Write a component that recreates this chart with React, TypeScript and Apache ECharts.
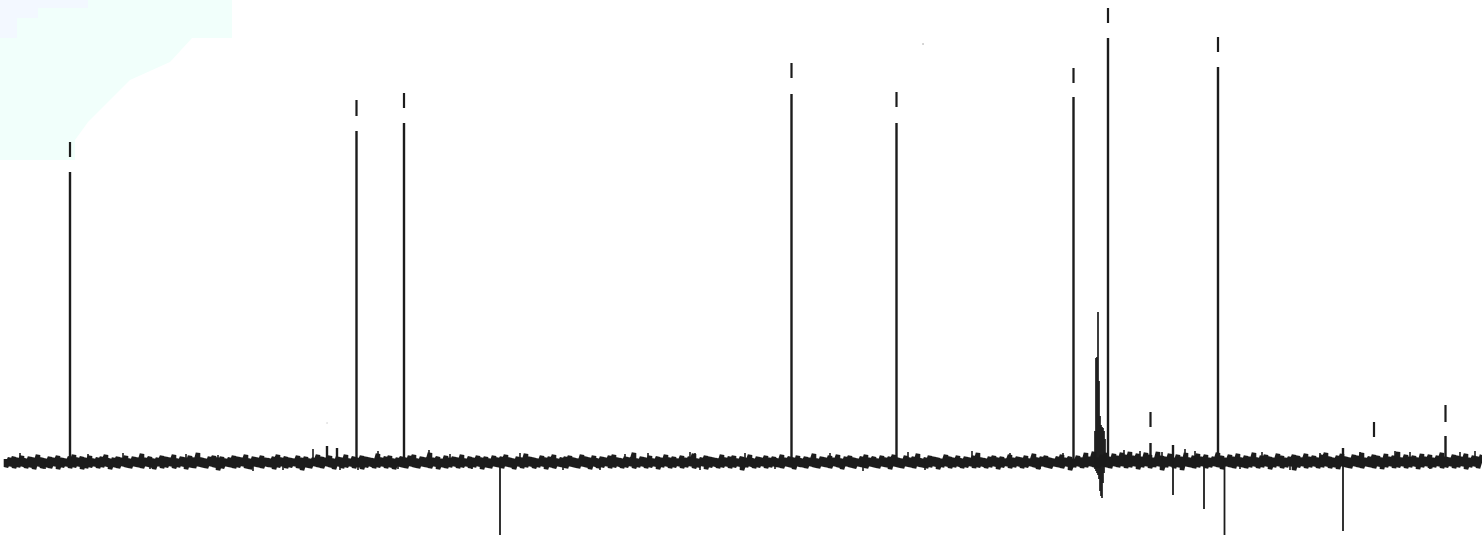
import React, { useEffect, useRef } from "react";
import * as echarts from "echarts";

// upright and inverted resonances: position along the trace, signed height
const peakX = [70, 356.5, 404, 791.5, 896.5, 1073.5, 1108, 1218, 1150.5, 1445.5, 500, 1173, 1204, 1224.5, 1343, 327, 337, 1173, 1343];
const peakHeight = [289, 330, 338, 367, 338, 364, 423, 394, 18, 25, -74, -34, -48, -74, -70, 15, 13, 16, 13];

// short tick marks floating above the peaks
const markerX = [70, 356.5, 404, 791.5, 896.5, 1073.5, 1108, 1218, 1150.5, 1374, 1445.5];
const markerLow = [304, 345, 353, 383, 354, 378, 438, 409, 34, 24, 39];
const markerHigh = [319, 361, 368, 398, 369, 393, 453, 424, 49, 39, 56];

// solvent multiplet
const solventX = [1095, 1096, 1097, 1098, 1099, 1100, 1101, 1102, 1103, 1104, 1105];
const solventHigh = [30, 103, 104, 149, 80, 45, 36, 34, 33, 30, 22];
const solventLow = [-8, -10, -12, -14, -18, -30, -35, -37, -22, -12, -6];

// baseline noise: top and bottom of the trace in pairs, one pair every 4px from x=6
const noiseStart = 6;
const noiseStep = 4;
const noise = [
  2, -6, 3, -5, 4, -7, 3, -6, 5, -5, 2, -7, 4, -6, 3, -8, 6, -5, 3, -7,
  2, -6, 4, -7, 3, -5, 5, -8, 3, -6, 2, -5, 4, -7, 6, -6, 3, -5, 4, -8,
  3, -7, 5, -6, 2, -5, 3, -7, 4, -6, 6, -5, 2, -8, 3, -6, 4, -7, 3, -5,
  5, -6, 2, -7, 4, -5, 3, -6, 7, -7, 3, -5, 4, -6, 2, -8, 3, -5, 5, -7,
  4, -6, 3, -5, 6, -7, 2, -6, 4, -5, 3, -8, 5, -6, 3, -7, 8, -5, 3, -6,
  2, -7, 4, -5, 5, -6, 3, -9, 4, -7, 2, -5, 3, -6, 5, -7, 4, -6, 3, -5,
  6, -7, 2, -8, 4, -5, 3, -6, 5, -7, 3, -5, 2, -6, 4, -8, 6, -6, 3, -5,
  4, -7, 3, -6, 2, -5, 5, -7, 3, -9, 4, -6, 2, -7, 3, -5, 6, -6, 4, -7,
  3, -5, 5, -6, 2, -8, 4, -5, 3, -7, 6, -6, 2, -5, 4, -7, 3, -6, 5, -8,
  4, -6, 3, -5, 2, -7, 7, -6, 3, -5, 4, -7, 5, -6, 2, -8, 3, -5, 4, -6,
  3, -7, 5, -5, 6, -6, 2, -7, 4, -5, 3, -6, 8, -7, 3, -5, 4, -8, 2, -6,
  5, -7, 3, -6, 4, -5, 3, -7, 6, -6, 2, -5, 4, -7, 3, -6, 5, -5, 3, -8,
  4, -6, 2, -7, 5, -5, 3, -6, 4, -7, 6, -5, 3, -6, 2, -8, 4, -5, 3, -7,
  7, -6, 4, -5, 3, -7, 2, -6, 5, -5, 3, -8, 4, -6, 6, -7, 2, -5, 3, -6,
  4, -7, 5, -5, 3, -6, 2, -7, 6, -5, 4, -6, 3, -8, 5, -5, 2, -7, 4, -6,
  3, -5, 5, -7, 6, -6, 3, -5, 2, -7, 4, -6, 3, -5, 8, -7, 2, -6, 4, -5,
  3, -7, 5, -6, 2, -5, 4, -8, 3, -6, 6, -5, 3, -7, 4, -6, 2, -5, 5, -7,
  3, -6, 4, -5, 7, -7, 2, -6, 3, -5, 5, -8, 4, -6, 3, -5, 2, -7, 6, -6,
  3, -5, 4, -7, 5, -6, 2, -5, 4, -9, 3, -6, 6, -5, 2, -7, 4, -6, 3, -5,
  5, -7, 3, -6, 4, -5, 2, -6, 6, -7, 3, -5, 4, -6, 3, -8, 5, -5, 2, -6,
  4, -7, 3, -5, 7, -6, 2, -7, 4, -5, 3, -6, 5, -7, 3, -5, 6, -6, 2, -8,
  4, -5, 5, -6, 3, -7, 2, -5, 4, -6, 6, -7, 3, -5, 4, -6, 2, -7, 5, -5,
  3, -6, 4, -8, 6, -5, 3, -6, 2, -7, 5, -5, 3, -6, 4, -7, 7, -5, 2, -6,
  3, -7, 5, -6, 4, -5, 3, -8, 2, -6, 6, -5, 4, -7, 3, -6, 5, -5, 2, -7,
  4, -6, 3, -5, 5, -7, 8, -6, 3, -5, 2, -7, 4, -6, 5, -5, 3, -8, 4, -6,
  2, -5, 6, -7, 3, -6, 4, -5, 3, -7, 5, -6, 2, -5, 7, -6, 3, -8, 4, -5,
  5, -6, 3, -7, 2, -5, 4, -6, 6, -7, 3, -5, 4, -9, 2, -6, 5, -5, 3, -7,
  8, -6, 4, -5, 9, -6, 3, -7, 6, -5, 8, -6, 4, -7, 7, -5, 5, -6, 8, -5,
  6, -7, 9, -6, 5, -5, 7, -8, 4, -6, 8, -5, 6, -7, 3, -6, 9, -5, 5, -9,
  4, -6, 7, -5, 3, -7, 6, -6, 4, -9, 8, -5, 3, -6, 5, -7, 7, -6, 4, -5,
  6, -7, 3, -6, 4, -5, 8, -6, 5, -8, 3, -5, 6, -6, 4, -7, 7, -5, 3, -6,
  5, -7, 4, -6, 8, -5, 3, -7, 5, -6, 6, -5, 4, -8, 3, -6, 7, -5, 5, -7,
  3, -6, 4, -5, 6, -9, 5, -6, 3, -5, 7, -7, 4, -6, 5, -5, 3, -7, 6, -6,
  8, -5, 4, -7, 3, -6, 5, -8, 7, -5, 4, -6, 3, -7, 6, -5, 5, -6, 8, -7,
  3, -5, 4, -6, 6, -7, 5, -5, 3, -8, 7, -6, 4, -5, 5, -7, 9, -6, 3, -5,
  6, -7, 4, -6, 5, -5, 3, -8, 7, -6, 4, -5, 6, -7, 3, -6, 5, -5, 8, -7,
  4, -6, 3, -5, 6, -7, 5, -6, 4, -5, 7, -8, 3, -6, 5, -5, 4, -7, 6,
];

// taller noise spikes that stick out of the band
const spikeX = [20, 45, 88, 123, 150, 186, 218, 253, 283, 313, 340, 358, 378, 398, 429, 450, 472, 520, 563, 600, 625, 648, 690, 695, 700, 745, 775, 830, 863, 908, 925, 972, 1010, 1040, 1063, 1124, 1140, 1162, 1185, 1195, 1240, 1262, 1290, 1320, 1360, 1395, 1410, 1430, 1460, 1475];
const spikeHeight = [8, -8, 7, 8, -8, 7, 6, -10, -9, 12, -9, -9, 10, -8, 11, 7, -8, 8, -9, -9, 7, 8, 9, 8, -9, 8, -8, 8, -10, 9, -9, 10, 8, -8, 8, 11, 10, 9, 12, 10, -8, 9, -9, 8, 9, 10, 9, -8, 9, 10];

const INK = "#1c1c1c";

const stick = (x: number, from: number, to: number, width: number) => ({
  type: "line" as const,
  silent: true,
  showSymbol: false,
  animation: false,
  lineStyle: { color: INK, width },
  data: [[x, from], [x, to]],
});

export default function App() {
  const chartRef = useRef<HTMLDivElement>(null);

  useEffect(() => {
    if (!chartRef.current) return;
    const chart = echarts.init(chartRef.current, null, { renderer: "svg" });

    chart.setOption({
      animation: false,
      backgroundColor: "#ffffff",
      grid: { left: 0, right: 0, top: 0, bottom: 0 },
      xAxis: { type: "value", min: 0, max: 1482, show: false },
      yAxis: { type: "value", min: -75, max: 461, show: false },
      // faint tint of the scanned page, top left
      graphic: [
        {
          type: "polygon",
          z: -2,
          shape: { points: [[0, 0], [232, 0], [232, 38], [192, 38], [170, 62], [130, 80], [110, 100], [88, 122], [75, 140], [75, 160], [0, 160]] },
          style: { fill: "#f1fffb" },
        },
        {
          type: "polygon",
          z: -1,
          shape: { points: [[0, 0], [88, 0], [88, 8], [38, 8], [38, 18], [17, 18], [17, 38], [0, 38]] },
          style: { fill: "#f3f8ff" },
        },
        { type: "circle", shape: { cx: 923, cy: 44, r: 0.8 }, style: { fill: "#bdbdbd" } },
        { type: "circle", shape: { cx: 327, cy: 423, r: 0.8 }, style: { fill: "#dddddd" } },
      ],
      series: [
        {
          type: "line",
          silent: true,
          showSymbol: false,
          animation: false,
          lineStyle: { color: INK, width: 4.6, join: "bevel" },
          data: noise.map((v, i) => [noiseStart + Math.floor(i / 2) * noiseStep, v]),
        },
        ...spikeX.map((x, i) => stick(x, 0, spikeHeight[i], 1.6)),
        ...peakX.map((x, i) => stick(x, 0, peakHeight[i], peakHeight[i] < 0 ? 1.8 : 2.4)),
        ...markerX.map((x, i) => stick(x, markerLow[i], markerHigh[i], 2.2)),
        ...solventX.map((x, i) => stick(x, solventLow[i], solventHigh[i], 1.7)),
      ],
    });

    return () => chart.dispose();
  }, []);

  return <div ref={chartRef} style={{ position: "fixed", left: 0, top: 0, width: 1482, height: 536 }} />;
}
